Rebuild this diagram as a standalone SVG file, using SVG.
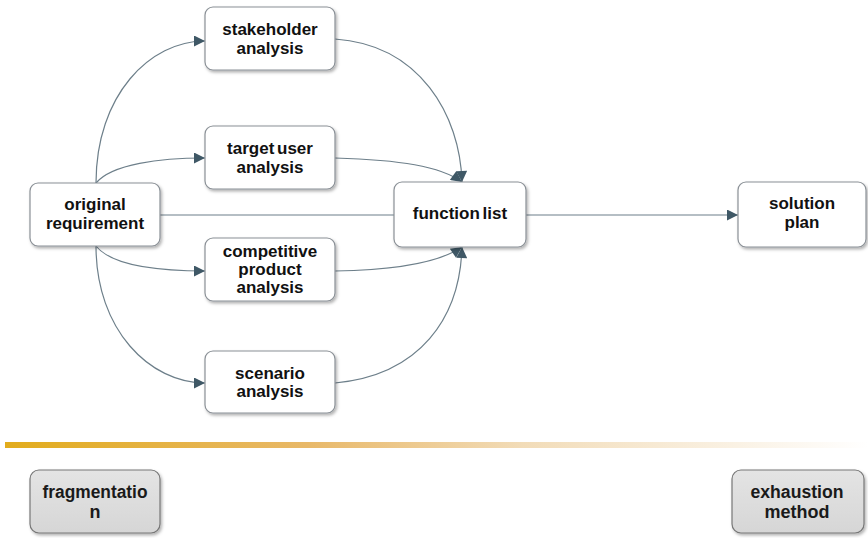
<svg xmlns="http://www.w3.org/2000/svg" width="868" height="538" viewBox="0 0 868 538">
<style>
.box{fill:#fff;stroke:#8a9096;stroke-width:1.2}
.gbox{fill:url(#gg);stroke:#777;stroke-width:1.2}
.t{font-family:"Liberation Sans",Arial,sans-serif;font-weight:bold;font-size:17px;fill:#111;text-anchor:middle;word-spacing:-2px}
.n{font-family:"Liberation Sans",Arial,sans-serif;font-weight:bold;font-size:18px;fill:#1a1a1a;text-anchor:middle}
.c{fill:none;stroke:#6d7f8a;stroke-width:1.2}
</style>
<defs>
<marker id="ah" viewBox="0 0 10 10" refX="10" refY="5" markerWidth="13" markerHeight="11" markerUnits="userSpaceOnUse" orient="auto">
<path d="M0,0 L10,5 L0,10 z" fill="#3f5866"/>
</marker>
<filter id="sh" x="-10%" y="-10%" width="125%" height="130%">
<feDropShadow dx="1.5" dy="2" stdDeviation="1.5" flood-color="#000" flood-opacity="0.3"/>
</filter>
<linearGradient id="gg" x1="0" y1="0" x2="0" y2="1">
<stop offset="0" stop-color="#e4e4e4"/>
<stop offset="1" stop-color="#d6d6d6"/>
</linearGradient>
<linearGradient id="bar" x1="0" y1="0" x2="1" y2="0">
<stop offset="0" stop-color="#e2ac1c"/>
<stop offset="0.35" stop-color="#e8b868"/>
<stop offset="0.6" stop-color="#f2dcb8"/>
<stop offset="1" stop-color="#ffffff"/>
</linearGradient>
</defs>
<rect width="868" height="538" fill="#fff"/>
<g id="connectors">
<path class="c" d="M96,183 C96,95 150,41 205,41" marker-end="url(#ah)"/>
<path class="c" d="M96,183 C112,164 160,158 205,158" marker-end="url(#ah)"/>
<path class="c" d="M160,215 L394,215"/>
<path class="c" d="M96,246 C112,266 160,271 205,271" marker-end="url(#ah)"/>
<path class="c" d="M96,246 C96,330 150,383 205,383" marker-end="url(#ah)"/>
<path class="c" d="M335,39 C420,45 460,115 462,182" marker-end="url(#ah)"/>
<path class="c" d="M335,158 C400,160 440,166 462,182" marker-end="url(#ah)"/>
<path class="c" d="M335,271 C400,270 440,262 462,247" marker-end="url(#ah)"/>
<path class="c" d="M335,383 C420,375 460,318 462,247" marker-end="url(#ah)"/>
<path class="c" d="M526,215 L738,215" marker-end="url(#ah)"/>
</g>
<g id="stakeholder">
<rect class="box" filter="url(#sh)" x="205" y="7" width="130" height="63" rx="8"/>
<text class="t" x="270" y="35">stakeholder</text>
<text class="t" x="270" y="54">analysis</text>
</g>
<g id="targetuser">
<rect class="box" filter="url(#sh)" x="205" y="126" width="130" height="63" rx="8"/>
<text class="t" x="270" y="154">target user</text>
<text class="t" x="270" y="173">analysis</text>
</g>
<g id="original">
<rect class="box" filter="url(#sh)" x="30" y="183" width="130" height="63" rx="8"/>
<text class="t" x="95" y="210">original</text>
<text class="t" x="95" y="229">requirement</text>
</g>
<g id="competitive">
<rect class="box" filter="url(#sh)" x="205" y="238" width="130" height="63" rx="8"/>
<text class="t" x="270" y="257">competitive</text>
<text class="t" x="270" y="275">product</text>
<text class="t" x="270" y="293">analysis</text>
</g>
<g id="scenario">
<rect class="box" filter="url(#sh)" x="205" y="351" width="130" height="62" rx="8"/>
<text class="t" x="270" y="379">scenario</text>
<text class="t" x="270" y="397">analysis</text>
</g>
<g id="functionlist">
<rect class="box" filter="url(#sh)" x="394" y="182" width="132" height="65" rx="8"/>
<text class="t" x="460" y="219">function list</text>
</g>
<g id="solution">
<rect class="box" filter="url(#sh)" x="738" y="182" width="128" height="65" rx="8"/>
<text class="t" x="802" y="209">solution</text>
<text class="t" x="802" y="228">plan</text>
</g>
<rect x="5" y="442" width="863" height="6" fill="url(#bar)"/>
<g id="fragmentation">
<rect class="gbox" filter="url(#sh)" x="30" y="470" width="130" height="63" rx="9"/>
<text class="n" x="95" y="498" textLength="105" lengthAdjust="spacingAndGlyphs">fragmentatio</text>
<text class="n" x="95" y="518">n</text>
</g>
<g id="exhaustion">
<rect class="gbox" filter="url(#sh)" x="732" y="470" width="132" height="63" rx="9"/>
<text class="n" x="797" y="498" textLength="93" lengthAdjust="spacingAndGlyphs">exhaustion</text>
<text class="n" x="797" y="518">method</text>
</g>
</svg>
